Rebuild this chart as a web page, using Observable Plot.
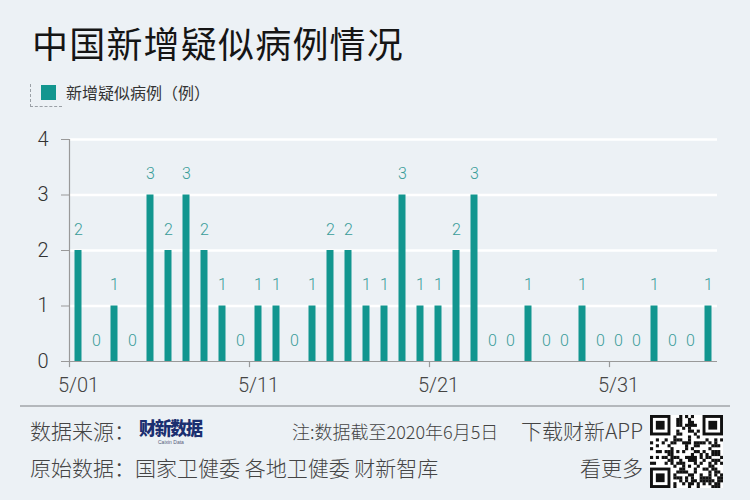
<!DOCTYPE html>
<html><head><meta charset="utf-8">
<script src="https://cdn.jsdelivr.net/npm/d3@7"></script>
<script src="https://cdn.jsdelivr.net/npm/@observablehq/plot@0.6"></script>
<style>
body{margin:0;background:#ecf1f5;width:750px;height:500px;overflow:hidden;position:relative;font-family:"Liberation Sans","Noto Sans CJK SC",sans-serif;}
.abs{position:absolute;white-space:nowrap;}
#title{left:32px;top:18px;font-size:36px;line-height:48px;color:#151515;font-family:"Noto Sans CJK SC",sans-serif;letter-spacing:1.2px;}
#lgbox{left:30px;top:84px;width:31px;height:22px;border-left:1px dashed #9aa0a6;border-bottom:1px dashed #9aa0a6;}
#lgsq{left:41px;top:85px;width:15px;height:15px;background:#12968f;}
#lgtx{left:66px;top:80px;font-size:16px;line-height:24px;color:#333;font-family:"Noto Sans CJK SC",sans-serif;}
#chart{left:0;top:120px;}
#rule{left:20px;top:405px;width:710px;height:2px;background:#b4b8bc;}
.ft{font-size:21px;line-height:26px;color:#444;font-family:"Noto Sans CJK SC",sans-serif;font-weight:300;}
#logo{left:139px;top:418px;font-size:18px;font-weight:900;color:#1b2f70;font-family:"Noto Sans CJK SC",sans-serif;letter-spacing:-1.5px;line-height:18px;transform:scaleX(0.95);transform-origin:left;}
#logo2{left:158px;top:439px;font-size:5px;line-height:6px;color:#55607a;}
#qr{left:650px;top:415px;}
</style></head><body>
<div id="title" class="abs">中国新增疑似病例情况</div>
<div id="lgbox" class="abs"></div>
<div id="lgsq" class="abs"></div>
<div id="lgtx" class="abs">新增疑似病例（例）</div>
<div id="chart" class="abs"></div>
<div id="rule" class="abs"></div>
<div class="abs ft" style="left:30px;top:417px;">数据来源：</div>
<div id="logo" class="abs">财新数据</div>
<div id="logo2" class="abs">Caixin Data</div>
<div class="abs ft" style="left:292px;top:418px;font-size:18px;">注:数据截至2020年6月5日</div>
<div class="abs ft" style="right:107px;top:417px;">下载财新APP</div>
<div class="abs ft" style="left:30px;top:454px;">原始数据：国家卫健委 各地卫健委 财新智库</div>
<div class="abs ft" style="right:107px;top:454px;">看更多</div>
<svg id="qr" class="abs" width="73" height="73"></svg>
<script>
// ---- data ----
const dates = ["2020-05-01","2020-05-02","2020-05-03","2020-05-04","2020-05-05","2020-05-06","2020-05-07","2020-05-08","2020-05-09","2020-05-10",
  "2020-05-11","2020-05-12","2020-05-13","2020-05-14","2020-05-15","2020-05-16","2020-05-17","2020-05-18","2020-05-19","2020-05-20",
  "2020-05-21","2020-05-22","2020-05-23","2020-05-24","2020-05-25","2020-05-26","2020-05-27","2020-05-28","2020-05-29","2020-05-30",
  "2020-05-31","2020-06-01","2020-06-02","2020-06-03","2020-06-04","2020-06-05"];
const values = [2,0,1,0,3,2,3,2,1,0, 1,1,0,1,2,2,1,1,3,1, 1,2,3,0,0,1,0,0,1,0, 0,0,1,0,0,1];
const xTickDates = ["2020-05-01","2020-05-11","2020-05-21","2020-05-31"];
const xTickLabels = ["5/01","5/11","5/21","5/31"];
const yTicks = [0,1,2,3,4];

const parse = d3.utcParse("%Y-%m-%d");
const data = dates.map((d,i)=>({date: parse(d), value: values[i]}));
const ticks = xTickDates.map((d,i)=>({date: parse(d), label: xTickLabels[i]}));
const mid = d => d3.utcHour.offset(d.date, 12);
const numFont = "Roboto, 'Liberation Sans', sans-serif";

const plot = Plot.plot({
  width: 750, height: 280,
  marginLeft: 69, marginRight: 33, marginTop: 19, marginBottom: 39,
  style: {background: "transparent", fontFamily: numFont, fontWeight: 300},
  x: {type: "utc", domain: [parse("2020-05-01"), parse("2020-06-06")], axis: null},
  y: {type: "linear", domain: [0, 4], axis: null},
  marks: [
    Plot.ruleY(yTicks.filter(v=>v>0), {x1: parse("2020-05-01"), x2: parse("2020-06-06"), dx: 0, stroke: "#ffffff", strokeWidth: 2.5}),
    Plot.rectY(data, {x1: "date", x2: d => d3.utcDay.offset(d.date, 1), y: "value", fill: "#12968f", insetLeft: 5.5, insetRight: 5.5}),
    Plot.axisY({ticks: yTicks, tickFormat: "d", tickSize: 8, tickPadding: 13, fontSize: 20, stroke: "#999", color: "#333", label: null}),
    Plot.ruleX([parse("2020-05-01")], {y1: 0, y2: 4, stroke: "#999", strokeWidth: 1.2}),
    Plot.ruleY([0], {stroke: "#999", strokeWidth: 1.2}),
    Plot.ruleX(ticks, {x: "date", y1: 0, y2: -0.11, stroke: "#999", strokeWidth: 1.2}),
    Plot.text(ticks, {x: mid, y: () => 0, dy: 24, text: "label", fontSize: 20, fill: "#444"}),
    Plot.text(data, {x: mid, y: "value", dy: -21, text: d => String(d.value), fontSize: 16, fill: "#3a9c99"})
  ]
});
document.getElementById("chart").appendChild(plot);

// decorative QR-like code
(function(){
  const svg = d3.select("#qr");
  const n = 25, s = 73 / n;
  svg.append("rect").attr("width",73).attr("height",73).attr("fill","#fff");
  const finder = (cx, cy) => {
    svg.append("rect").attr("x",cx*s).attr("y",cy*s).attr("width",7*s).attr("height",7*s).attr("fill","#111");
    svg.append("rect").attr("x",(cx+1)*s).attr("y",(cy+1)*s).attr("width",5*s).attr("height",5*s).attr("fill","#fff");
    svg.append("rect").attr("x",(cx+2)*s).attr("y",(cy+2)*s).attr("width",3*s).attr("height",3*s).attr("fill","#111");
  };
  const inFinder = (i,j) => (i<8&&j<8)||(i>=n-8&&j<8)||(i<8&&j>=n-8);
  for (let i=0;i<n;i++) for (let j=0;j<n;j++) {
    if (inFinder(i,j)) continue;
    const h = ((i*73856093) ^ (j*19349663) ^ (i*j*83492791)) >>> 0;
    if (h % 7 < 3) svg.append("rect").attr("x",i*s).attr("y",j*s).attr("width",s+0.2).attr("height",s+0.2).attr("fill","#111");
  }
  finder(0,0); finder(n-7,0); finder(0,n-7);
})();
</script>
</body></html>
